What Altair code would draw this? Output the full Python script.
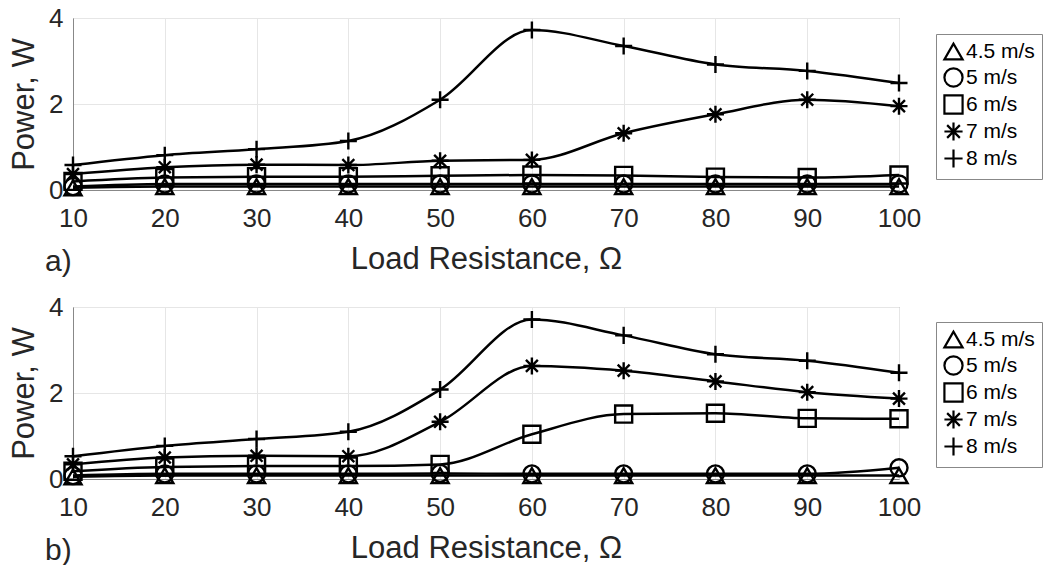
import altair as alt
import pandas as pd

# Load resistance sweep (ohm)
resistance = [10, 20, 30, 40, 50, 60, 70, 80, 90, 100]
speeds = ["4.5 m/s", "5 m/s", "6 m/s", "7 m/s", "8 m/s"]

# a) measured power (W) per wind speed
power_a_45 = [0.05, 0.08, 0.08, 0.08, 0.08, 0.08, 0.08, 0.08, 0.08, 0.08]
power_a_5 = [0.08, 0.14, 0.14, 0.14, 0.14, 0.14, 0.14, 0.14, 0.14, 0.14]
power_a_6 = [0.20, 0.29, 0.31, 0.31, 0.33, 0.35, 0.34, 0.30, 0.29, 0.35]
power_a_7 = [0.37, 0.53, 0.59, 0.58, 0.68, 0.70, 1.32, 1.76, 2.10, 1.95]
power_a_8 = [0.58, 0.81, 0.95, 1.14, 2.10, 3.72, 3.35, 2.92, 2.77, 2.49]

# b) measured power (W) per wind speed
power_b_45 = [0.05, 0.08, 0.08, 0.08, 0.08, 0.08, 0.08, 0.08, 0.08, 0.08]
power_b_5 = [0.08, 0.12, 0.12, 0.12, 0.13, 0.12, 0.12, 0.12, 0.12, 0.26]
power_b_6 = [0.18, 0.28, 0.30, 0.30, 0.34, 1.04, 1.51, 1.53, 1.41, 1.40]
power_b_7 = [0.34, 0.50, 0.54, 0.53, 1.33, 2.63, 2.52, 2.27, 2.02, 1.87]
power_b_8 = [0.53, 0.77, 0.93, 1.10, 2.08, 3.71, 3.34, 2.90, 2.75, 2.47]

series_a = [power_a_45, power_a_5, power_a_6, power_a_7, power_a_8]
series_b = [power_b_45, power_b_5, power_b_6, power_b_7, power_b_8]

# Marker shapes: triangle, circle, square, asterisk, plus
shape_range = [
    "triangle-up",
    "circle",
    "square",
    "M-1,0H1M0,-1V1M-0.7,-0.7L0.7,0.7M-0.7,0.7L0.7,-0.7",
    "M-1,0H1M0,-1V1",
]

FONT = "Liberation Sans"
TEXT = "#262626"
W, H = 826, 172


def long_table(series):
    rows = []
    for order, (name, vals) in enumerate(zip(speeds, series)):
        for r, p in zip(resistance, vals):
            rows.append({"speed": name, "order": order, "R": r, "P": p})
    return pd.DataFrame(rows)


def panel(series, tag, legend_y):
    df = long_table(series)
    x = alt.X(
        "R:Q",
        scale=alt.Scale(domain=[10, 100], nice=False),
        axis=alt.Axis(
            values=resistance,
            title="Load Resistance, Ω",
            titlePadding=13,
            labelPadding=15,
            labelFlush=False,
            labelOverlap=False,
        ),
    )
    y = alt.Y(
        "P:Q",
        scale=alt.Scale(domain=[0, 4], nice=False),
        axis=alt.Axis(
            values=[0, 2, 4],
            title="Power, W",
            titlePadding=8,
            labelPadding=10,
            labelFlush=False,
        ),
    )
    base = alt.Chart(df)
    lines = base.mark_line(
        interpolate="monotone", color="black", strokeWidth=2.5
    ).encode(x=x, y=y, detail="speed:N", order="R:Q")
    points = base.mark_point(
        filled=False, color="black", strokeWidth=2.4, size=290, opacity=1
    ).encode(
        x=x,
        y=y,
        shape=alt.Shape(
            "speed:N",
            scale=alt.Scale(domain=speeds, range=shape_range),
            sort=speeds,
            legend=alt.Legend(
                title=None,
                orient="none",
                legendX=863,
                legendY=legend_y,
                labelFontSize=21,
                labelFont=FONT,
                labelColor="black",
                symbolSize=330,
                symbolStrokeWidth=2.2,
                symbolStrokeColor="black",
                rowPadding=0,
                padding=7,
                labelOffset=2,
                strokeColor="#888888",
                fillColor="white",
            ),
        ),
    )
    label = alt.Chart(pd.DataFrame({"t": [tag]})).mark_text(
        font=FONT, fontSize=30, color=TEXT, align="left", baseline="middle"
    ).encode(text="t:N", x=alt.value(-28), y=alt.value(H + 72))
    return alt.layer(lines, points, label).properties(width=W, height=H)


top = panel(series_a, "a)", 16)
bottom = panel(series_b, "b)", 15)

chart = (
    alt.vconcat(top, bottom, spacing=117, bounds="flush")
    .resolve_scale(shape="independent")
    .properties(padding={"left": 8, "top": 4, "right": 5, "bottom": 0})
    .configure(font=FONT)
    .configure_view(stroke="#888888", strokeWidth=1)
    .configure_axis(
        labelFont=FONT,
        titleFont=FONT,
        labelFontSize=26,
        titleFontSize=31,
        titleFontWeight="normal",
        labelColor=TEXT,
        titleColor=TEXT,
        domainColor="#888888",
        gridColor="#e6e6e6",
        ticks=False,
        tickSize=0,
    )
)

chart.save("out.html", embed_options={"renderer": "svg", "actions": False})
